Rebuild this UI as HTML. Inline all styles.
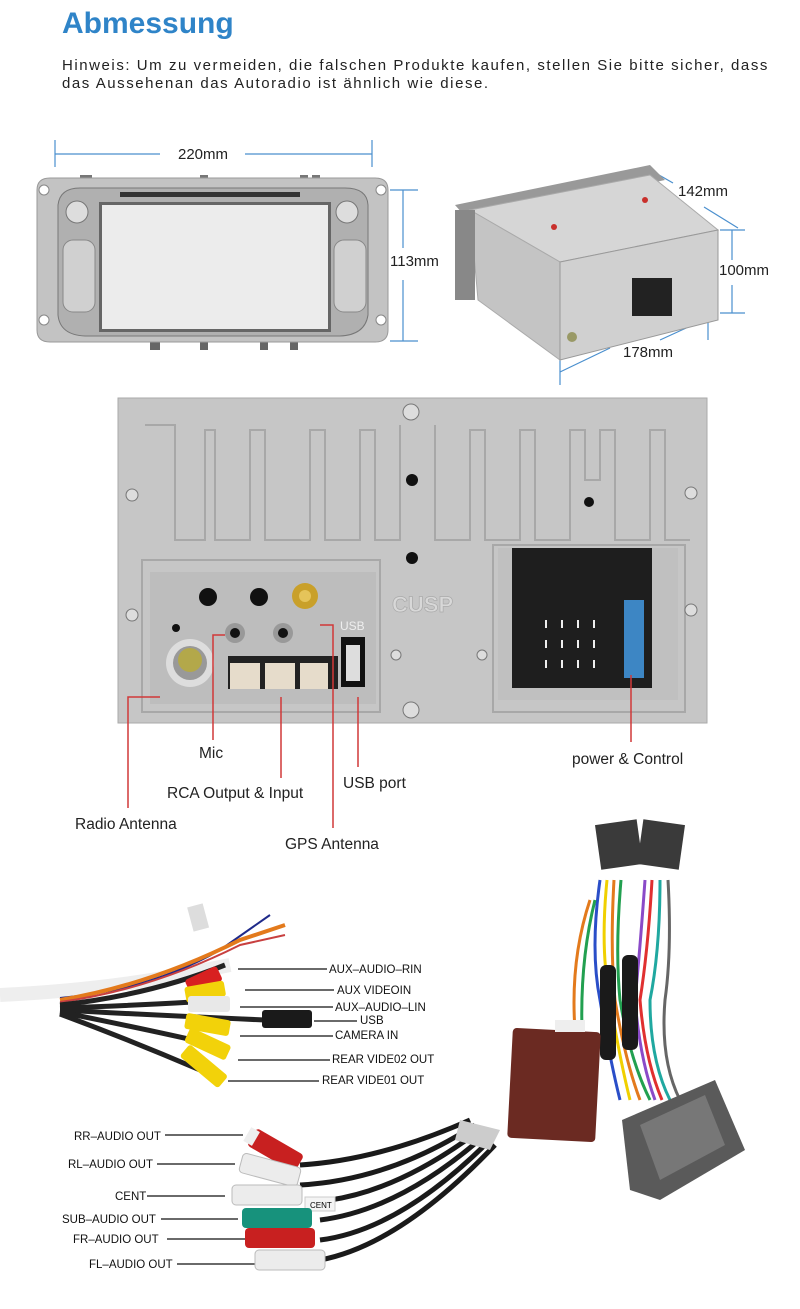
<!DOCTYPE html>
<html><head><meta charset="utf-8"><style>
html,body{margin:0;padding:0;background:#fff;}
body{width:800px;height:1309px;position:relative;overflow:hidden;font-family:"Liberation Sans",sans-serif;}
.t{position:absolute;white-space:nowrap;}
</style></head><body>
<div class="t" style="left:62px;top:7px;font-size:30px;font-weight:bold;color:#2f84c8;">Abmessung</div>
<div class="t" style="left:62px;top:57px;font-size:15px;color:#222;letter-spacing:1.55px;line-height:18px;">Hinweis: Um zu vermeiden, die falschen Produkte kaufen, stellen Sie bitte sicher, dass<br>das Aussehenan das Autoradio ist ähnlich wie diese.</div>

<svg width="800" height="1309" style="position:absolute;left:0;top:0" xmlns="http://www.w3.org/2000/svg" font-family="Liberation Sans, sans-serif">
<g stroke="#4a8fce" stroke-width="1.2" fill="none">
<line x1="55" y1="140" x2="55" y2="167"/><line x1="372" y1="140" x2="372" y2="167"/>
<line x1="55" y1="154" x2="160" y2="154"/><line x1="245" y1="154" x2="372" y2="154"/>
<line x1="390" y1="190" x2="418" y2="190"/><line x1="390" y1="341" x2="418" y2="341"/>
<line x1="403" y1="190" x2="403" y2="248"/><line x1="403" y1="280" x2="403" y2="341"/>
<line x1="645" y1="167" x2="673" y2="183"/><line x1="704" y1="207" x2="738" y2="228"/>
<line x1="720" y1="230" x2="745" y2="230"/><line x1="720" y1="313" x2="745" y2="313"/>
<line x1="732" y1="230" x2="732" y2="260"/><line x1="732" y1="285" x2="732" y2="313"/>
<line x1="560" y1="372" x2="610" y2="348"/><line x1="660" y1="340" x2="708" y2="318"/>
<line x1="560" y1="360" x2="560" y2="385"/><line x1="708" y1="305" x2="708" y2="340"/>
</g>
<g font-size="15" fill="#222">
<text x="178" y="159">220mm</text><text x="390" y="266">113mm</text>
<text x="678" y="196">142mm</text><text x="719" y="275">100mm</text><text x="623" y="357">178mm</text>
</g>

<g>
<rect x="80" y="175" width="12" height="10" fill="#777"/><rect x="200" y="175" width="8" height="10" fill="#777"/><rect x="300" y="175" width="8" height="10" fill="#777"/><rect x="312" y="175" width="8" height="10" fill="#777"/>
<rect x="150" y="340" width="10" height="10" fill="#666"/><rect x="200" y="340" width="8" height="10" fill="#666"/><rect x="260" y="340" width="8" height="10" fill="#666"/><rect x="290" y="340" width="8" height="10" fill="#666"/>
<path d="M37 190 Q37 178 50 178 L375 178 Q388 178 388 190 L388 330 Q388 342 375 342 L50 342 Q37 342 37 330Z" fill="#c3c3c3" stroke="#999"/>
<path d="M58 205 Q60 188 80 188 L345 188 Q367 188 368 205 L368 315 Q365 335 340 336 L85 336 Q60 335 58 315Z" fill="#b0b0b0" stroke="#777"/>
<rect x="120" y="192" width="180" height="5" fill="#333"/>
<rect x="99" y="202" width="232" height="130" fill="#666"/>
<rect x="102" y="205" width="226" height="124" fill="#ececec"/>
<circle cx="77" cy="212" r="11" fill="#ddd" stroke="#777"/><circle cx="347" cy="212" r="11" fill="#ddd" stroke="#777"/>
<rect x="63" y="240" width="32" height="72" rx="10" fill="#d0d0d0" stroke="#888"/>
<rect x="334" y="240" width="32" height="72" rx="10" fill="#d0d0d0" stroke="#888"/>
<circle cx="44" cy="190" r="5" fill="#fff" stroke="#888"/><circle cx="381" cy="190" r="5" fill="#fff" stroke="#888"/>
<circle cx="44" cy="320" r="5" fill="#fff" stroke="#888"/><circle cx="381" cy="320" r="5" fill="#fff" stroke="#888"/>
</g>

<g>
<polygon points="455,205 650,165 665,180 470,222" fill="#999"/>
<polygon points="470,210 650,175 718,230 560,262" fill="#d6d6d6" stroke="#aaa"/>
<polygon points="470,210 560,262 560,360 478,300" fill="#c4c4c4" stroke="#aaa"/>
<polygon points="560,262 718,230 718,320 560,360" fill="#d0d0d0" stroke="#999"/>
<rect x="455" y="210" width="20" height="90" fill="#888"/>
<rect x="632" y="278" width="40" height="38" fill="#222"/>
<circle cx="572" cy="337" r="5" fill="#996"/>
<g fill="#c9302c"><circle cx="554" cy="227" r="3"/><circle cx="645" cy="200" r="3"/></g>
</g>

<rect x="118" y="398" width="589" height="325" fill="#c6c6c6" stroke="#aaa"/>
<g fill="none" stroke="#a8a8a8" stroke-width="2">
<path d="M145 425 L175 425 L175 540 L205 540 L205 430 L215 430 L215 540 L250 540 L250 430 L265 430 L265 540 L310 540 L310 430 L325 430 L325 540 L360 540 L360 430 L375 430 L375 540 L400 540 L400 425"/>
<path d="M435 425 L435 540 L470 540 L470 430 L485 430 L485 540 L520 540 L520 430 L535 430 L535 540 L570 540 L570 430 L585 430 L585 480 L600 480 L600 430 L615 430 L615 540 L650 540 L650 430 L665 430 L665 540 L690 540"/>
<path d="M142 560 L380 560 L380 712 L142 712 Z"/>
<path d="M493 545 L685 545 L685 712 L493 712 Z"/>
</g>
<rect x="150" y="572" width="226" height="132" fill="#bdbdbd"/>
<rect x="498" y="548" width="180" height="152" fill="#c0c0c0"/>
<rect x="512" y="548" width="140" height="140" fill="#1e1e1e"/>
<rect x="624" y="600" width="20" height="78" fill="#3d86c4"/>
<g fill="#eee"><rect x="545" y="620" width="2" height="8"/><rect x="561" y="620" width="2" height="8"/><rect x="577" y="620" width="2" height="8"/><rect x="593" y="620" width="2" height="8"/>
<rect x="545" y="640" width="2" height="8"/><rect x="561" y="640" width="2" height="8"/><rect x="577" y="640" width="2" height="8"/><rect x="593" y="640" width="2" height="8"/>
<rect x="545" y="660" width="2" height="8"/><rect x="561" y="660" width="2" height="8"/><rect x="577" y="660" width="2" height="8"/><rect x="593" y="660" width="2" height="8"/></g>
<text x="392" y="612" font-size="22" font-weight="bold" fill="#d8d8d8" stroke="#aaa" stroke-width="0.7">CUSP</text>
<g fill="#111"><circle cx="412" cy="480" r="6"/><circle cx="412" cy="558" r="6"/><circle cx="589" cy="502" r="5"/>
<circle cx="208" cy="597" r="9"/><circle cx="259" cy="597" r="9"/><circle cx="176" cy="628" r="4"/></g>
<g fill="#ddd" stroke="#777"><circle cx="411" cy="412" r="8"/><circle cx="411" cy="710" r="8"/><circle cx="132" cy="495" r="6"/><circle cx="132" cy="615" r="6"/><circle cx="691" cy="493" r="6"/><circle cx="691" cy="610" r="6"/><circle cx="396" cy="655" r="5"/><circle cx="482" cy="655" r="5"/></g>
<circle cx="190" cy="663" r="24" fill="#ddd"/><circle cx="190" cy="663" r="17" fill="#999"/><circle cx="190" cy="660" r="12" fill="#b3a84a"/>
<circle cx="235" cy="633" r="10" fill="#999"/><circle cx="235" cy="633" r="5" fill="#111"/>
<circle cx="283" cy="633" r="10" fill="#999"/><circle cx="283" cy="633" r="5" fill="#111"/>
<circle cx="305" cy="596" r="13" fill="#c9a02a"/><circle cx="305" cy="596" r="6" fill="#e5c45a"/>
<rect x="228" y="656" width="110" height="33" fill="#222"/>
<rect x="230" y="663" width="30" height="26" fill="#e6dccb"/><rect x="265" y="663" width="30" height="26" fill="#e6dccb"/><rect x="300" y="663" width="28" height="26" fill="#e6dccb"/>
<rect x="341" y="637" width="24" height="50" fill="#111"/><rect x="346" y="645" width="14" height="36" fill="#ddd"/>
<text x="340" y="630" font-size="12" fill="#eee">USB</text>
<g stroke="#d13838" stroke-width="1.5" fill="none">
<path d="M160 697 L128 697 L128 808"/>
<path d="M225 635 L213 635 L213 740"/>
<path d="M281 697 L281 778"/>
<path d="M320 625 L333 625 L333 828"/>
<path d="M358 697 L358 767"/>
<path d="M631 675 L631 742"/>
</g>
<g font-size="15.5" fill="#222">
<text x="199" y="758">Mic</text><text x="167" y="798">RCA Output &amp; Input</text><text x="75" y="829">Radio Antenna</text>
<text x="343" y="788">USB port</text><text x="285" y="849">GPS Antenna</text><text x="572" y="764">power &amp; Control</text>
</g>

<g fill="none" stroke-width="4">
<path d="M0 995 Q100 990 180 975 L230 965" stroke="#eee" stroke-width="14"/>
<path d="M60 998 Q150 990 220 950 L270 915" stroke="#1f2a8a" stroke-width="2"/>
<path d="M60 1000 Q150 985 240 940 L285 925" stroke="#e37a1c"/>
<path d="M60 1002 Q150 990 240 945 L285 935" stroke="#c84040" stroke-width="2"/>
<path d="M60 1005 Q150 995 225 965" stroke="#222" stroke-width="5"/>
<path d="M60 1008 Q150 1005 225 1000" stroke="#222" stroke-width="5"/>
<path d="M60 1010 Q150 1015 265 1020" stroke="#222" stroke-width="5"/>
<path d="M60 1012 Q150 1030 215 1045" stroke="#222" stroke-width="5"/>
<path d="M60 1014 Q130 1040 200 1070" stroke="#222" stroke-width="5"/>
</g>
<g transform="rotate(-25 215 975)"><rect x="185" y="967" width="35" height="16" rx="3" fill="#d82020"/></g>
<g transform="rotate(-10 215 990)"><rect x="185" y="982" width="40" height="16" rx="3" fill="#f2d20a"/></g>
<rect x="188" y="996" width="42" height="16" rx="3" fill="#e8e8e8"/>
<rect x="262" y="1010" width="50" height="18" rx="3" fill="#1a1a1a"/>
<g transform="rotate(10 210 1025)"><rect x="185" y="1017" width="45" height="16" rx="3" fill="#f2d20a"/></g>
<g transform="rotate(25 210 1045)"><rect x="185" y="1037" width="45" height="16" rx="3" fill="#f2d20a"/></g>
<g transform="rotate(40 200 1063)"><rect x="180" y="1055" width="50" height="16" rx="3" fill="#f2d20a"/></g>
<rect x="190" y="905" width="16" height="25" fill="#ddd" transform="rotate(-15 198 917)"/>
<g stroke="#111" stroke-width="1.2">
<line x1="238" y1="969" x2="327" y2="969"/><line x1="245" y1="990" x2="334" y2="990"/><line x1="240" y1="1007" x2="333" y2="1007"/>
<line x1="314" y1="1021" x2="357" y2="1021"/><line x1="240" y1="1036" x2="333" y2="1036"/><line x1="238" y1="1060" x2="330" y2="1060"/><line x1="228" y1="1081" x2="319" y2="1081"/>
<line x1="165" y1="1135" x2="243" y2="1135"/><line x1="157" y1="1164" x2="235" y2="1164"/><line x1="147" y1="1196" x2="225" y2="1196"/>
<line x1="161" y1="1219" x2="238" y2="1219"/><line x1="167" y1="1239" x2="245" y2="1239"/><line x1="177" y1="1264" x2="255" y2="1264"/>
</g>
<g font-size="11.5" fill="#111">
<text x="329" y="973">AUX–AUDIO–RIN</text><text x="337" y="994">AUX VIDEOIN</text><text x="335" y="1011">AUX–AUDIO–LIN</text>
<text x="360" y="1024">USB</text><text x="335" y="1039">CAMERA IN</text><text x="332" y="1063">REAR VIDE02 OUT</text><text x="322" y="1084">REAR VIDE01 OUT</text>
<text x="74" y="1140">RR–AUDIO OUT</text><text x="68" y="1168">RL–AUDIO OUT</text><text x="115" y="1200">CENT</text>
<text x="62" y="1223">SUB–AUDIO OUT</text><text x="73" y="1243">FR–AUDIO OUT</text><text x="89" y="1268">FL–AUDIO OUT</text>
</g>
<g fill="none" stroke="#1a1a1a" stroke-width="5">
<path d="M300 1165 Q380 1160 470 1120"/><path d="M300 1185 Q390 1180 475 1125"/><path d="M330 1200 Q400 1190 480 1130"/>
<path d="M320 1220 Q400 1210 485 1135"/><path d="M320 1240 Q400 1230 490 1140"/><path d="M320 1260 Q400 1245 495 1145"/>
</g>
<path d="M460 1120 L500 1130 L490 1150 L455 1140Z" fill="#ccc"/>
<g transform="rotate(30 275 1150)"><rect x="248" y="1140" width="55" height="20" rx="4" fill="#c82020"/><rect x="243" y="1142" width="10" height="16" fill="#eee"/></g>
<g transform="rotate(15 270 1170)"><rect x="240" y="1160" width="60" height="20" rx="4" fill="#ececec" stroke="#bbb"/></g>
<rect x="232" y="1185" width="70" height="20" rx="4" fill="#ececec" stroke="#bbb"/>
<rect x="305" y="1197" width="30" height="14" fill="#f4f4f4" stroke="#ccc"/><text x="310" y="1208" font-size="8">CENT</text>
<rect x="242" y="1208" width="70" height="20" rx="4" fill="#17927c"/>
<rect x="245" y="1228" width="70" height="20" rx="4" fill="#c82020"/>
<rect x="255" y="1250" width="70" height="20" rx="4" fill="#ececec" stroke="#bbb"/>

<g fill="none" stroke-width="3">
<path d="M600 880 Q590 950 600 1000 Q610 1060 620 1100" stroke="#2a4ec8"/>
<path d="M607 880 Q600 950 610 1000 Q620 1060 630 1100" stroke="#f0d000"/>
<path d="M614 880 Q610 950 615 1000 Q625 1060 640 1100" stroke="#e37a1c"/>
<path d="M621 880 Q615 950 620 1000 Q630 1060 650 1100" stroke="#22a050"/>
<path d="M645 880 Q640 950 635 1000 Q640 1060 655 1100" stroke="#8a4ac8"/>
<path d="M652 880 Q648 950 640 1000 Q645 1060 662 1100" stroke="#e03030"/>
<path d="M660 880 Q660 950 650 1000 Q650 1060 670 1100" stroke="#20a8a0"/>
<path d="M668 880 Q672 950 665 1000 Q660 1060 680 1100" stroke="#666"/>
<path d="M590 900 Q570 960 575 1030" stroke="#e37a1c"/>
<path d="M595 900 Q580 960 582 1030" stroke="#22a050"/>
</g>
<rect x="598" y="822" width="42" height="45" fill="#3a3a3a" transform="rotate(-8 619 845)"/>
<rect x="640" y="822" width="42" height="45" fill="#3a3a3a" transform="rotate(8 661 845)"/>
<rect x="600" y="965" width="16" height="95" rx="6" fill="#1a1a1a"/>
<rect x="622" y="955" width="16" height="95" rx="6" fill="#1a1a1a"/>
<rect x="510" y="1030" width="88" height="110" rx="4" fill="#6b2a22" transform="rotate(3 554 1085)"/>
<rect x="555" y="1020" width="30" height="12" fill="#eee"/>
<polygon points="622,1120 715,1080 745,1150 660,1200 630,1190" fill="#5a5a5a"/>
<polygon points="640,1125 705,1095 725,1145 660,1180" fill="#777"/>
</svg>
</body></html>
